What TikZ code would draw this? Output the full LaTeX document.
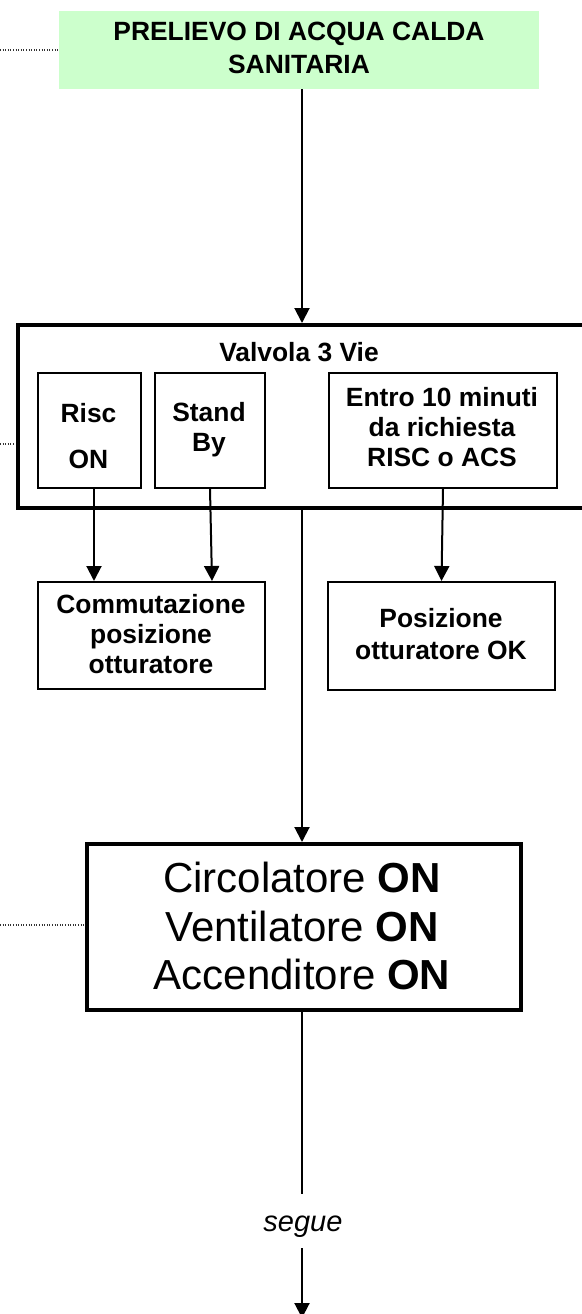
\documentclass[tikz,border=0pt]{standalone}
\usepackage{fontspec}
\setmainfont{Liberation Sans}
\usetikzlibrary{arrows.meta}
\definecolor{greenfill}{RGB}{204,255,204}
\begin{document}
\begin{tikzpicture}[x=1pt,y=-1pt,
  thinbox/.style={draw, line width=2pt, inner sep=0pt, anchor=north west},
  thickbox/.style={draw, line width=4pt, inner sep=0pt, anchor=north west},
  conn/.style={line width=2pt},
  arr/.style={line width=2pt, -{Triangle[length=15pt,width=15pt]}},
  dotline/.style={line width=1.1pt, dash pattern=on 1pt off 1.6pt, black!80},
  lab/.style={font=\bfseries\fontsize{26.4}{30.3}\selectfont, align=center, anchor=base, inner sep=0pt},
  big/.style={font=\fontsize{42}{48.5}\selectfont, align=center, anchor=base, inner sep=0pt}
]
\useasboundingbox (0,0) rectangle (581,1314);
% boxes
\node[fill=greenfill, anchor=north west, minimum width=480pt, minimum height=78pt, inner sep=0pt] (green) at (59,11) {};
\node[lab, font=\bfseries\fontsize{26.4}{33.3}\selectfont] (tg) at (299,74) {PRELIEVO DI ACQUA CALDA\\SANITARIA};

\node[thickbox, minimum width=590pt, minimum height=183pt] (valv) at (15.5,323) {};
\node[lab] (tv) at (299,361) {Valvola 3 Vie};

\node[thinbox, minimum width=103pt, minimum height=115pt] (risc) at (37,372) {};
\node[lab] (tr1) at (88.5,422) {Risc};
\node[lab] (tr2) at (88.5,468.5) {ON};

\node[thinbox, minimum width=110pt, minimum height=115pt] (sb) at (154,372) {};
\node[lab] (tsb) at (209,451.7) {Stand\\By};

\node[thinbox, minimum width=228pt, minimum height=115pt] (entro) at (328,372) {};
\node[lab] (te) at (442,466.7) {Entro 10 minuti\\da richiesta\\RISC o ACS};

\node[thinbox, minimum width=227pt, minimum height=107pt] (comm) at (37,581) {};
\node[lab, font=\bfseries\fontsize{26.4}{29.7}\selectfont] (tc) at (151,673.3) {Commutazione\\posizione\\otturatore};

\node[thinbox, minimum width=227pt, minimum height=107.5pt] (pos) at (327,581) {};
\node[lab, font=\bfseries\fontsize{26.4}{31.7}\selectfont] (tp) at (441,659) {Posizione\\otturatore OK};

\node[thickbox, minimum width=433.5pt, minimum height=165.5pt] (circ) at (85,842) {};
\node[big] (tci) at (302,989.5) {Circolatore \textbf{ON}\\Ventilatore \textbf{ON}\\Accenditore \textbf{ON}};

\node[anchor=base, inner sep=0pt, text height=37pt, text depth=17pt, font=\itshape\fontsize{29}{34}\selectfont] (seg) at (303,1231) {segue};

% dotted leaders
\coordinate (d1) at (0,50);
\coordinate (d2) at (0,444);
\coordinate (d3) at (0,925);
\draw[dotline] (d1) -- (d1 -| green.west);
\draw[dotline] (d2) -- (d2 -| valv.west);
\draw[dotline] (d3) -- (d3 -| circ.west);

% connectors
\coordinate (mx) at (302,0);
\coordinate (endp) at (302,1318);
\draw[arr] (green.south -| mx) -- (valv.north -| mx);
\draw[arr] ([xshift=4.5pt]risc.south) -- ([xshift=-57.5pt]comm.north);
\draw[arr] (sb.south) -- ([xshift=60.5pt]comm.north);
\draw[arr] (entro.south) -- (pos.north);
\draw[arr] (valv.south -| mx) -- (circ.north -| mx);
\draw[conn] (circ.south -| mx) -- (seg.north -| mx);
\draw[arr] (seg.south -| mx) -- (endp);
\end{tikzpicture}
\end{document}
